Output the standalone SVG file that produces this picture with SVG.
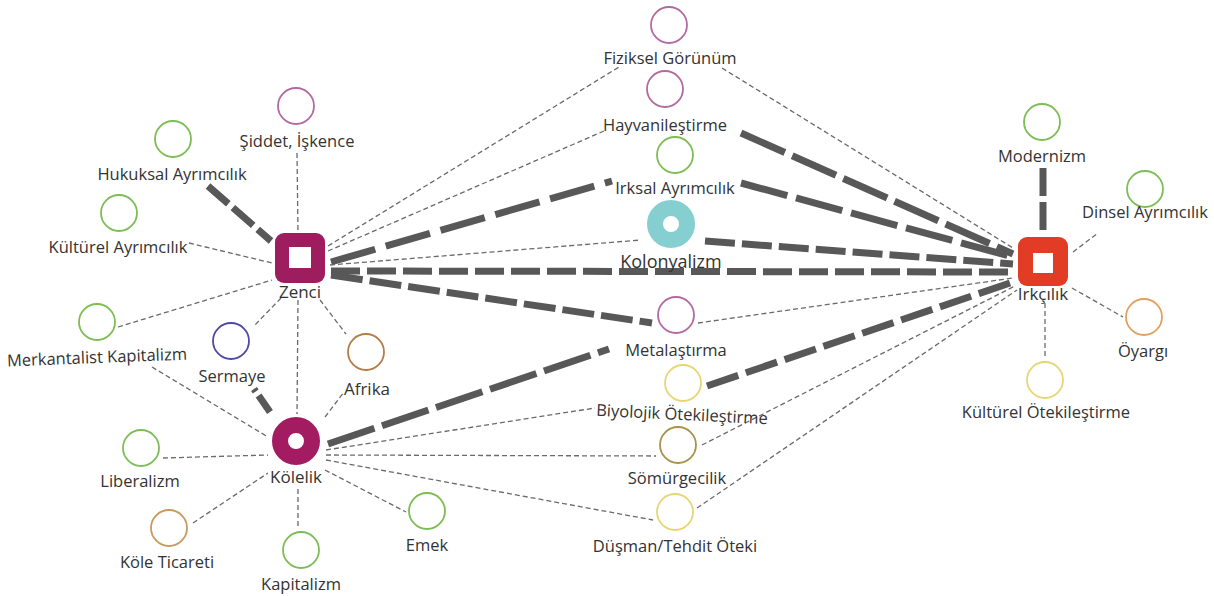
<svg xmlns="http://www.w3.org/2000/svg" width="1214" height="596" viewBox="0 0 1214 596">
<style>
text{font-family:"Open Sans","Noto Sans","Liberation Sans",sans-serif;font-size:16.5px;fill:#333;text-anchor:middle}
.big{font-size:17px}
.xl{font-size:18px}
.t{stroke:#6a6a6a;stroke-width:1.3;stroke-dasharray:5 3;fill:none}
.k{stroke:#585858;stroke-width:7;fill:none}
.c{fill:none;stroke-width:1.8}
.pu{stroke:#b36aa3}
.gr{stroke:#7dbd55}
.ye{stroke:#e6d674}
.ol{stroke:#a8934a}
.or{stroke:#e3a060}
.br{stroke:#b47c46}
.tan{stroke:#c99a5e}
.bl{stroke:#4b4aa6}
</style>
<rect width="1214" height="596" fill="#fff"/>
<g id="connectors">
<line class="t" x1="297" y1="153" x2="298" y2="233"/>
<line class="k" x1="208" y1="186" x2="271" y2="241" stroke-dasharray="27 6" stroke-width="6"/>
<line class="t" x1="189" y1="243" x2="272" y2="263"/>
<line class="t" x1="118" y1="327" x2="272" y2="280"/>
<line class="t" x1="281" y1="298" x2="254" y2="326"/>
<line class="t" x1="298" y1="300" x2="297" y2="414"/>
<line class="t" x1="320" y1="300" x2="346" y2="334"/>
<line class="t" x1="328" y1="246" x2="619" y2="67"/>
<line class="t" x1="328" y1="251" x2="604" y2="131"/>
<line class="k" x1="331" y1="262" x2="612" y2="181" stroke-dasharray="46 11"/>
<line class="t" x1="330" y1="265" x2="641" y2="240"/>
<line class="k" x1="331" y1="271" x2="1013" y2="272" stroke-dasharray="29 7"/>
<line class="k" x1="331" y1="275" x2="652" y2="323" stroke-dasharray="32 7"/>
<line class="t" x1="152" y1="367" x2="268" y2="437"/>
<line class="k" x1="254" y1="389" x2="270" y2="412" stroke-width="5" stroke-dasharray="3 5 22"/>
<line class="t" x1="325" y1="417" x2="344" y2="392"/>
<line class="t" x1="163" y1="458" x2="268" y2="455"/>
<line class="t" x1="193" y1="523" x2="268" y2="473"/>
<line class="t" x1="298" y1="489" x2="298" y2="528"/>
<line class="t" x1="325" y1="470" x2="406" y2="512"/>
<line class="k" x1="328" y1="444" x2="609" y2="349" stroke-dasharray="49 8"/>
<line class="t" x1="326" y1="450" x2="595" y2="408"/>
<line class="t" x1="326" y1="455" x2="656" y2="456"/>
<line class="t" x1="326" y1="460" x2="653" y2="520"/>
<line class="t" x1="722" y1="68" x2="1013" y2="248"/>
<line class="k" x1="741" y1="133" x2="1013" y2="254" stroke-dasharray="48 8"/>
<line class="k" x1="741" y1="183" x2="1013" y2="257" stroke-dasharray="48 9"/>
<line class="k" x1="705" y1="241" x2="1013" y2="264" stroke-dasharray="30 7"/>
<line class="t" x1="698" y1="323" x2="1013" y2="278"/>
<line class="k" x1="707" y1="386" x2="1013" y2="282" stroke-dasharray="33 8"/>
<line class="t" x1="702" y1="445" x2="1015" y2="286"/>
<line class="t" x1="697" y1="508" x2="1017" y2="290"/>
<line class="k" x1="1043" y1="168" x2="1043" y2="230" stroke-width="6" stroke-dasharray="28 6"/>
<line class="t" x1="1073" y1="252" x2="1098" y2="233"/>
<line class="t" x1="1072" y1="288" x2="1123" y2="317"/>
<line class="t" x1="1045" y1="303" x2="1045" y2="356"/>
</g>
<g id="zenci"><rect x="275" y="233" width="50" height="50" rx="9" fill="#9e1d5e"/><rect x="289" y="247" width="22" height="21" fill="#fff"/><text class="big" x="300" y="298">Zenci</text></g>
<g id="irkcilik"><rect x="1018" y="237" width="50" height="49" rx="9" fill="#e23c26"/><rect x="1033" y="253" width="20" height="20" fill="#fff"/><text class="big" x="1043" y="300">Irkçılık</text></g>
<g id="kolelik"><circle cx="296" cy="441" r="16" fill="none" stroke="#a31c61" stroke-width="16"/><text class="big" x="296" y="483">Kölelik</text></g>
<g id="kolonyalizm"><circle cx="671" cy="224" r="16" fill="none" stroke="#86cfd0" stroke-width="16"/><text class="xl" x="671" y="268">Kolonyalizm</text></g>
<g id="fiziksel"><circle class="c pu" cx="669" cy="25" r="18"/><text x="670" y="64">Fiziksel Görünüm</text></g>
<g id="hayvan"><circle class="c pu" cx="665" cy="89" r="18"/><text x="665" y="131">Hayvanileştirme</text></g>
<g id="irksal"><circle class="c gr" cx="675" cy="155" r="18"/><text x="675" y="194">Irksal Ayrımcılık</text></g>
<g id="metal"><circle class="c pu" cx="676" cy="315" r="18"/><text x="676" y="356">Metalaştırma</text></g>
<g id="biyolojik"><circle class="c ye" cx="683" cy="383" r="18"/><text x="682" y="420" transform="rotate(2.8 682 415)">Biyolojik Ötekileştirme</text></g>
<g id="somurge"><circle class="c ol" cx="678" cy="445" r="18"/><text x="677" y="484">Sömürgecilik</text></g>
<g id="dusman"><circle class="c ye" cx="675" cy="512" r="18"/><text x="675" y="552">Düşman/Tehdit Öteki</text></g>
<g id="modernizm"><circle class="c gr" cx="1042" cy="122" r="18"/><text x="1042" y="162">Modernizm</text></g>
<g id="dinsel"><circle class="c gr" cx="1145" cy="189" r="18"/><text x="1145" y="218">Dinsel Ayrımcılık</text></g>
<g id="oyargi"><circle class="c or" cx="1144" cy="317" r="18"/><text x="1143" y="357">Öyargı</text></g>
<g id="kulturel-otek"><circle class="c ye" cx="1045" cy="380" r="18"/><text x="1046" y="418">Kültürel Ötekileştirme</text></g>
<g id="siddet"><circle class="c pu" cx="296" cy="106" r="18"/><text x="297" y="147">Şiddet, İşkence</text></g>
<g id="hukuksal"><circle class="c gr" cx="173" cy="139" r="18"/><text x="172" y="180">Hukuksal Ayrımcılık</text></g>
<g id="kulturel-ayr"><circle class="c gr" cx="119" cy="213" r="18"/><text x="118" y="253">Kültürel Ayrımcılık</text></g>
<g id="merkantalist"><circle class="c gr" cx="97" cy="322" r="18"/><text x="97" y="363" transform="rotate(-2.2 97 358)">Merkantalist Kapitalizm</text></g>
<g id="sermaye"><circle class="c bl" cx="231" cy="341" r="18"/><text x="232" y="382">Sermaye</text></g>
<g id="afrika"><circle class="c br" cx="366" cy="352" r="18"/><text class="big" x="367" y="395">Afrika</text></g>
<g id="liberalizm"><circle class="c gr" cx="141" cy="448" r="18"/><text x="140" y="487">Liberalizm</text></g>
<g id="kole-ticareti"><circle class="c tan" cx="169" cy="528" r="18"/><text x="167" y="568">Köle Ticareti</text></g>
<g id="kapitalizm"><circle class="c gr" cx="301" cy="550" r="18"/><text x="301" y="590">Kapitalizm</text></g>
<g id="emek"><circle class="c gr" cx="427" cy="511" r="18"/><text x="427" y="551">Emek</text></g>
</svg>
